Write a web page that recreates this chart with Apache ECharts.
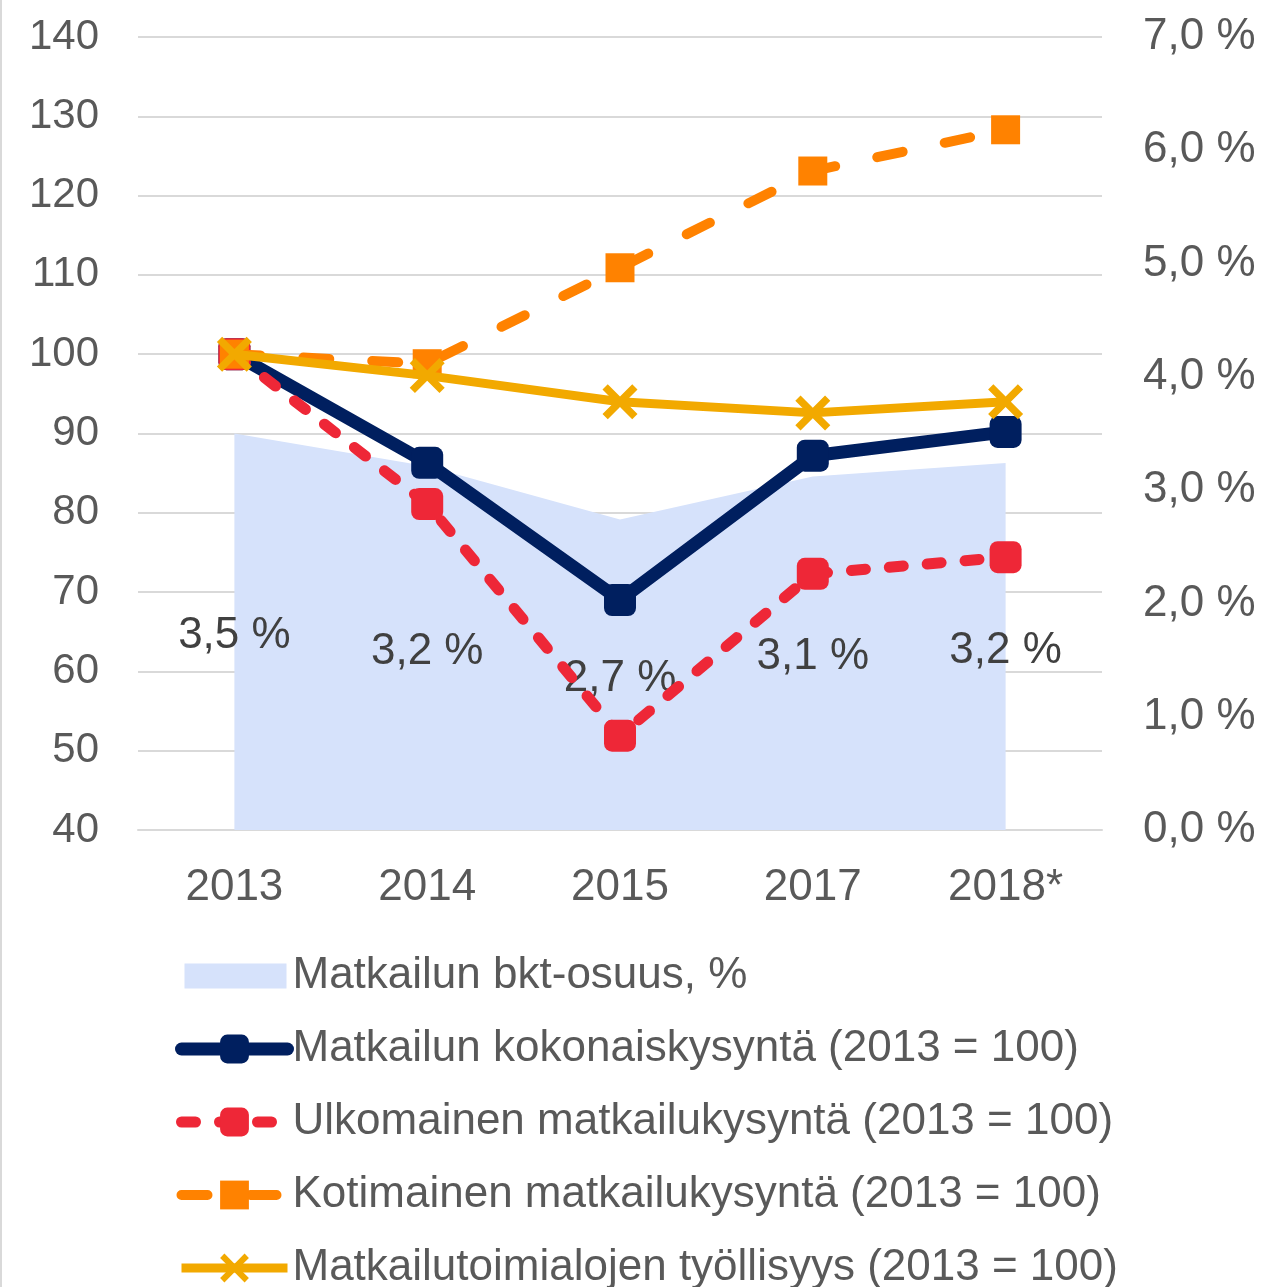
<!DOCTYPE html>
<html>
<head>
<meta charset="utf-8">
<script src="https://cdn.jsdelivr.net/npm/echarts@6/dist/echarts.min.js"></script>
<style>
  html, body { margin: 0; padding: 0; background: #fff; }
  #chart { width: 1262px; height: 1287px; position: relative; }
  #edge { position: absolute; left: 0; top: 0; width: 2px; height: 1287px; background: #d9d9d9; }
</style>
</head>
<body>
<div id="chart"></div>
<div id="edge"></div>
<script>
const categories = ['2013', '2014', '2015', '2017', '2018*'];
const leftTicks = [40, 140, 10];      // min, max, interval
const rightTicks = [0, 7, 1];         // min, max, interval (%)

const gdpShare = [3.5, 3.21, 2.74, 3.12, 3.24];            // Matkailun bkt-osuus, %
const totalDemand = [100, 86.3, 69.0, 87.2, 90.2];          // kokonaiskysyntä
const foreignDemand = [100, 81.1, 51.9, 72.3, 74.4];        // ulkomainen
const domesticDemand = [100, 98.8, 110.9, 123.1, 128.3];    // kotimainen
const employment = [100, 97.3, 94.0, 92.6, 94.0];           // työllisyys

const names = [
  'Matkailun bkt-osuus, %',
  'Matkailun kokonaiskysyntä (2013 = 100)',
  'Ulkomainen matkailukysyntä (2013 = 100)',
  'Kotimainen matkailukysyntä (2013 = 100)',
  'Matkailutoimialojen työllisyys (2013 = 100)'
];

const FONT = '"Liberation Sans", Arial, sans-serif';
const xPath = 'path://M0 15 L15 0 L50 35 L85 0 L100 15 L65 50 L100 85 L85 100 L50 65 L15 100 L0 85 L35 50 Z';
const rectIcon = 'path://M0 0h0.05v0.05h-0.05z M3 5.5h102v25H3z M105.95 35.95h0.05v0.05h-0.05z';
const fmtPct = v => v.toFixed(1).replace('.', ',') + ' %';

const chart = echarts.init(document.getElementById('chart'), null, { renderer: 'canvas' });
chart.setOption({
  animation: false,
  backgroundColor: '#ffffff',
  textStyle: { fontFamily: FONT },
  grid: { left: 138, right: 160, top: 37, bottom: 457, containLabel: false },
  legend: {
    orient: 'vertical',
    left: 175,
    top: 954,
    height: 600,
    padding: 0,
    itemWidth: 106,
    itemHeight: 36,
    itemGap: 29,
    textStyle: { fontFamily: FONT, fontSize: 44, color: '#595959', lineHeight: 36 },
    lineStyle: { width: 'inherit' },
    data: [
      { name: names[0], icon: rectIcon },
      { name: names[1] },
      { name: names[2] },
      { name: names[3] },
      { name: names[4] }
    ]
  },
  xAxis: {
    type: 'category',
    data: categories,
    boundaryGap: true,
    axisLine: { show: true, lineStyle: { color: '#d9d9d9', width: 2 } },
    axisTick: { show: false },
    axisLabel: { color: '#595959', fontSize: 44, margin: 36, fontFamily: FONT }
  },
  yAxis: [
    {
      type: 'value',
      min: leftTicks[0], max: leftTicks[1], interval: leftTicks[2],
      axisLine: { show: false },
      axisTick: { show: false },
      axisLabel: { color: '#595959', fontSize: 42, margin: 39, fontFamily: FONT },
      splitLine: { show: true, lineStyle: { color: '#d9d9d9', width: 2 } }
    },
    {
      type: 'value',
      position: 'right',
      min: rightTicks[0], max: rightTicks[1], interval: rightTicks[2],
      axisLine: { show: false },
      axisTick: { show: false },
      axisLabel: { color: '#595959', fontSize: 44, margin: 41, fontFamily: FONT, formatter: fmtPct },
      splitLine: { show: false }
    }
  ],
  series: [
    {
      name: names[0],
      type: 'line',
      yAxisIndex: 1,
      data: gdpShare,
      symbol: 'none',
      lineStyle: { width: 0, color: '#d6e2fb' },
      itemStyle: { color: '#d6e2fb' },
      areaStyle: { color: '#d6e2fb', opacity: 1 },
      z: 1
    },
    {
      name: 'labels',
      type: 'bar',
      yAxisIndex: 1,
      data: gdpShare,
      barWidth: 2,
      itemStyle: { color: 'rgba(0,0,0,0)' },
      label: {
        show: true,
        position: 'inside',
        offset: [0, 4],
        color: '#404040',
        fontSize: 44,
        fontFamily: FONT,
        formatter: p => (Math.floor(p.value * 10 + 1e-9) / 10).toFixed(1).replace('.', ',') + ' %'
      },
      silent: true,
      z: 2
    },
    {
      name: names[1],
      type: 'line',
      data: totalDemand,
      symbol: 'roundRect',
      symbolSize: 32,
      lineStyle: { color: '#001f5f', width: 13, cap: 'round', join: 'round' },
      itemStyle: { color: '#001f5f' },
      z: 3
    },
    {
      name: names[2],
      type: 'line',
      data: foreignDemand,
      symbol: 'roundRect',
      symbolSize: 32,
      lineStyle: { color: '#ee2737', width: 11, type: [14, 24], cap: 'round', join: 'round' },
      itemStyle: { color: '#ee2737' },
      z: 4
    },
    {
      name: names[3],
      type: 'line',
      data: domesticDemand,
      symbol: 'rect',
      symbolSize: 29,
      lineStyle: { color: '#ff8200', width: 10, type: [26, 43], cap: 'round', join: 'round' },
      itemStyle: { color: '#ff8200' },
      z: 5
    },
    {
      name: names[4],
      type: 'line',
      data: employment,
      symbol: xPath,
      symbolSize: 35,
      lineStyle: { color: '#f2a900', width: 9, join: 'round' },
      itemStyle: { color: '#f2a900' },
      z: 6
    }
  ]
});
</script>
</body>
</html>
